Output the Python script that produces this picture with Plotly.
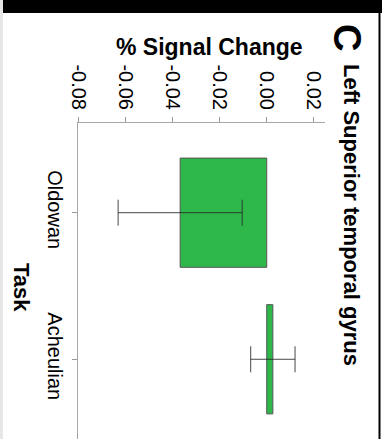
import plotly.graph_objects as go

# Mean % signal change per task, with error bar half-widths
tasks = ["Oldowan", "Acheulian"]
signal_change = [-0.0367, 0.0026]
signal_error = [0.0263, 0.0094]
value_ticks = [-0.08, -0.06, -0.04, -0.02, 0.00, 0.02]
value_tick_labels = ["-0.08", "-0.06", "-0.04", "-0.02", "0.00", "0.02"]

W, H = 382, 439
L, R, T, B = 78, 57, 123, 0
PW, PH = W - L - R, H - T - B


def px(x):
    return (x - L) / PW


def py(y):
    return (H - B - y) / PH


FONT = "Liberation Sans, Arial, sans-serif"

fig = go.Figure(
    go.Bar(
        y=tasks,
        x=signal_change,
        orientation="h",
        width=0.745,
        marker=dict(color="#2eb84a", line=dict(color="#555555", width=1)),
        error_x=dict(
            type="data",
            array=signal_error,
            visible=True,
            color="rgba(40,40,40,0.85)",
            thickness=1,
            width=13,
        ),
    )
)

fig.update_layout(
    width=W,
    height=H,
    margin=dict(l=L, r=R, t=T, b=B, pad=0),
    paper_bgcolor="white",
    plot_bgcolor="white",
    showlegend=False,
    font=dict(family=FONT, size=20, color="black"),
    xaxis=dict(
        side="top",
        range=[-0.08, 0.0247],
        tickvals=value_ticks,
        ticktext=value_tick_labels,
        tickangle=90,
        ticks="outside",
        ticklen=5,
        tickcolor="#999999",
        showline=True,
        linecolor="#a8a8a8",
        linewidth=1,
        showgrid=False,
        zeroline=False,
        tickfont=dict(size=20),
    ),
    yaxis=dict(
        type="category",
        range=[1.544, -0.612],
        tickangle=90,
        ticks="outside",
        ticklen=5,
        tickcolor="#999999",
        showline=True,
        linecolor="#a8a8a8",
        linewidth=1,
        showgrid=False,
        zeroline=False,
        tickfont=dict(size=20),
    ),
)

# Frame edges around the panel
fig.add_shape(type="rect", xref="paper", yref="paper",
              x0=px(3), x1=px(382), y0=py(13), y1=py(0),
              fillcolor="black", line=dict(width=0), layer="above")
fig.add_shape(type="rect", xref="paper", yref="paper",
              x0=px(378.5), x1=px(380.5), y0=py(439), y1=py(0),
              fillcolor="black", line=dict(width=0), layer="above")
fig.add_shape(type="rect", xref="paper", yref="paper",
              x0=px(0), x1=px(3), y0=py(439), y1=py(0),
              fillcolor="#e6e6e6", line=dict(width=0), layer="above")

# Axis titles and panel title
fig.add_annotation(text="<b>% Signal Change</b>", xref="paper", yref="paper",
                   x=px(209), y=py(47), xanchor="center", yanchor="middle",
                   showarrow=False, font=dict(size=23, family=FONT))
fig.add_annotation(text="<b>Task</b>", xref="paper", yref="paper",
                   x=px(22), y=py(287), xanchor="center", yanchor="middle",
                   textangle=90, showarrow=False, font=dict(size=22, family=FONT))
fig.add_annotation(text="<b>Left Superior temporal gyrus</b>", xref="paper", yref="paper",
                   x=px(352), y=py(215), xanchor="center", yanchor="middle",
                   textangle=90, showarrow=False, font=dict(size=22, family=FONT))
fig.add_annotation(text="<b>C</b>", xref="paper", yref="paper",
                   x=px(347), y=py(37), xanchor="center", yanchor="middle",
                   textangle=90, showarrow=False, font=dict(size=38, family=FONT))

fig.write_html("out.html")
